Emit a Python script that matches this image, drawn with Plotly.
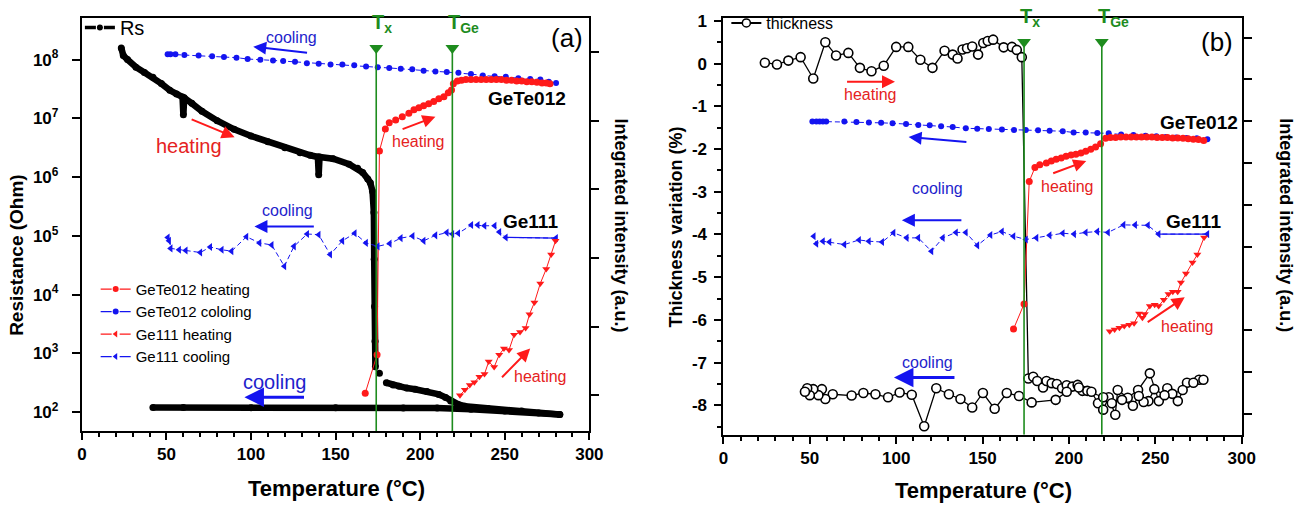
import plotly.graph_objects as go

# ---------------- data ----------------
# Panel (a): sheet resistance Rs (Ohm)
rs_heat_T = [23.3, 24.5, 27, 32, 37, 42, 47, 52, 56, 59.5, 60, 60.5, 65, 71, 80, 90, 100, 110, 120,
             129, 135, 139.5, 140, 140.5, 148.5, 158, 163, 166, 169, 170.5, 171.8, 172.6, 172.8, 173.0,
             173.3, 173.5, None, 175.9, None, 180, 184, 187.5, 192, 197, 204, 211, 215, 218, 222.5,
             226.5, 240, 260, 282.5]
rs_heat_R = [1.58e8, 1.17e8, 1.0e8, 7.4e7, 6.0e7, 5.0e7, 3.9e7, 3.0e7, 2.6e7, 2.3e7, 1.15e7, 2.24e7,
             1.8e7, 1.32e7, 9.1e6, 6.5e6, 5.0e6, 4.0e6, 3.16e6, 2.6e6, 2.35e6, 2.2e6, 1.1e6, 2.2e6,
             2.05e6, 1.66e6, 1.41e6, 1.2e6, 9.3e5, 8.0e5, 5.75e5, 2.5e5, 4.0e4, 6.3e3, 1.6e3, 590, None,
             460, None, 316, 290, 275, 257, 245, 224, 200, 178, 155, 135, 126, 115, 104, 91]
rs_cool_T = [282.5, 270, 250, 230, 210, 190, 150, 100, 60, 42]
rs_cool_R = [91, 97, 104, 112, 117, 118, 119, 119, 120, 120]

# Panel (a): integrated intensity (a.u.)
gete_heat_a_T = [167.5, 174.5, 175.9, 179.4, 181.7, 185.5, 189.4, 193.3, 196.3, 199.2, 202, 205, 208,
                 211, 214, 216.6, 218.5, 219.6, 222, 224.4, 227, 230, 233, 236, 239, 242, 245, 248,
                 251, 254, 257, 260, 263, 266, 269, 272, 274.5, 276.7]
gete_heat_a_I = [1.03, 1.59, 4.56, 4.88, 4.97, 5.01, 5.06, 5.11, 5.16, 5.19, 5.22, 5.25, 5.28, 5.32,
                 5.35, 5.41, 5.45, 5.54, 5.58, 5.59, 5.6, 5.6, 5.6, 5.6, 5.6, 5.6, 5.6, 5.6, 5.59,
                 5.59, 5.58, 5.58, 5.57, 5.57, 5.56, 5.55, 5.55, 5.54]
gete_cool_a_T = [280.3, 276, 271, 265, 258, 250.6, 244, 237, 230, 222.6, 215.7, 209, 202, 195.3, 188.5,
                 181.7, 174.9, 168, 161, 154, 147, 140, 133, 126, 119, 113, 105.5, 98, 91.4, 84, 77,
                 69, 60.6, 55.3, 52.4, 50.7]
gete_cool_a_I = [5.55, 5.57, 5.6, 5.61, 5.62, 5.64, 5.65, 5.66, 5.68, 5.7, 5.71, 5.72, 5.73, 5.75,
                 5.76, 5.77, 5.78, 5.79, 5.81, 5.82, 5.82, 5.83, 5.84, 5.86, 5.87, 5.88, 5.89, 5.9,
                 5.92, 5.93, 5.94, 5.95, 5.96, 5.97, 5.97, 5.97]
ge_heat_a_T = [223.5, 226.4, 229.3, 232, 235, 238, 240.5, 243.7, 246.7, 249.5, 252.5, 255.5, 259,
               262.3, 264.6, 267.5, 271, 274.5, 277.4, 280]
ge_heat_a_I = [1.0, 1.08, 1.15, 1.19, 1.27, 1.31, 1.49, 1.41, 1.59, 1.68, 1.66, 1.88, 1.92, 1.98,
               2.18, 2.35, 2.63, 2.84, 3.05, 3.25]
ge_cool_a_T = [280.3, 250.6, 246.8, 244, 238, 234, 230.2, 222.5, 219, 215.7, 209, 202, 195.5, 188.5,
               182, 174.9, 168, 161.3, 154, 146.8, 140, 133.2, 125.4, 119.7, 112.2, 105, 97.3, 88.5,
               82.7, 75.9, 70, 61.4, 57.5, 52.5, 51.6, 50.8]
ge_cool_a_I = [3.29, 3.30, 3.38, 3.47, 3.47, 3.48, 3.48, 3.36, 3.35, 3.37, 3.33, 3.25, 3.32, 3.29,
               3.21, 3.17, 3.22, 3.36, 3.25, 3.05, 3.34, 3.35, 3.17, 2.88, 3.19, 3.22, 3.31, 3.10,
               3.12, 3.16, 3.08, 3.11, 3.12, 3.14, 3.25, 3.30]

# Panel (b): thickness variation (%)
thick_T = [24, 31, 37.6, 44.7, 52, 59, 65.2, 72.3, 79, 85.7, 92.8, 100, 107, 114, 121, 128, 132.7,
           135.5, 138.4, 141, 144, 147.4, 150.4, 153, 156.1, 162.2, 167, 169.8, 172.7,
           176.5, 179.3, 181.6, 185, 187, 190, 193, 196, 198.7, 202, 205, 207.8, 210.6, 213, 216.8,
           219.8, 223, 226.8, 228.2, 234, 240, 246.8, 252, 256.9, 263, 268.3, 275.3, 277.8,
           272, 265.8, 259.8, 255.3, 249.4, 246, 243.2, 240.4, 237, 230.7, 224.8, 219.8, 205.7,
           198.7, 192.3, 178.4, 171.1, 164, 157, 150.2, 144, 137.2, 130.5, 123.2, 116.2, 109, 102,
           95.3, 88, 81, 74.2, 63.3, 59, 57, 55, 52, 50, 48.5, 47.2]
thick_V = [0.02, -0.02, 0.07, 0.15, -0.35, 0.50, 0.19, 0.25, -0.10, -0.18, -0.05, 0.39, 0.39, 0.09,
           -0.10, 0.30, 0.21, 0.12, 0.33, 0.36, 0.40, 0.21, 0.48, 0.53, 0.56, 0.38, 0.39, 0.32, 0.15,
           -7.37, -7.33, -7.43, -7.58, -7.43, -7.48, -7.50, -7.60, -7.53, -7.56, -7.52, -7.66, -7.66,
           -7.68, -7.95, -8.10, -7.81, -8.22, -7.64, -7.82, -7.64, -7.25, -7.90, -7.60, -7.90, -7.47,
           -7.40, -7.40,
           -7.47, -7.64, -7.73, -7.76, -7.62, -7.90, -7.92, -7.78, -8.01, -7.87, -7.95, -7.81, -7.58,
           -7.68, -7.87, -7.93, -7.78, -7.71, -8.08, -7.71, -8.05, -7.85, -7.74, -7.60, -8.49, -7.75,
           -7.70, -7.81, -7.74, -7.71, -7.77, -7.74, -7.85, -7.62, -7.76, -7.62, -7.76, -7.60, -7.68]

# Panel (b): integrated intensity (a.u.)
gete_heat_b_T = [167.9, 174, 177, 180.3, 183.1, 186.9, 189.8, 192.6, 195.5, 198.3, 201.2, 204, 206.9,
                 209.7, 212.6, 215.4, 218.3, 221.2, 224, 227, 230, 233, 236, 239, 242, 245, 248, 251,
                 254, 257, 260, 263, 266, 269, 272, 275, 278]
gete_heat_b_I = [3.03, 3.63, 6.56, 6.89, 6.96, 7.0, 7.05, 7.09, 7.12, 7.16, 7.19, 7.21, 7.24, 7.28,
                 7.33, 7.38, 7.46, 7.59, 7.61, 7.61, 7.62, 7.62, 7.62, 7.62, 7.62, 7.62, 7.62, 7.61,
                 7.61, 7.61, 7.6, 7.6, 7.59, 7.58, 7.57, 7.56, 7.54]
gete_cool_b_T = [280.1, 274, 268, 262, 256, 250.6, 244.3, 237.3, 230.2, 223, 216.4, 209.7, 202.7, 196.4,
                 188.8, 182.1, 175, 168.2, 161.2, 153.6, 146.9, 140.3, 132.7, 126, 119.4, 112.8, 105.7,
                 97.9, 91.3, 84.2, 77, 70, 59.5, 57.6, 55.7, 53.8, 51.5]
gete_cool_b_I = [7.57, 7.59, 7.6, 7.61, 7.62, 7.64, 7.65, 7.67, 7.68, 7.71, 7.72, 7.73, 7.73, 7.76,
                 7.77, 7.78, 7.79, 7.79, 7.80, 7.81, 7.82, 7.83, 7.86, 7.88, 7.90, 7.91, 7.93, 7.95,
                 7.96, 7.97, 7.98, 7.99, 7.99, 7.99, 7.99, 7.99, 7.99]
ge_heat_b_T = [223.6, 226.4, 229.2, 232.0, 234.9, 237.7, 240.6, 242.5, 243.9, 246.8, 249.6, 251.9,
               254.9, 257.6, 260.1, 262.9, 264.8, 267.7, 271.5, 274.3, 278.2]
ge_heat_b_I = [2.98, 3.02, 3.06, 3.10, 3.13, 3.17, 3.40, 3.30, 3.39, 3.58, 3.61, 3.58, 3.73, 3.87,
               3.92, 3.92, 4.14, 4.36, 4.62, 4.81, 5.22]
ge_cool_b_T = [280.1, 251.9, 245.7, 238.3, 231.6, 222.6, 216.4, 209.7, 203, 196.4, 188.8, 181.2, 175.1,
               167.9, 161.2, 154.6, 147, 140.3, 134.6, 127, 120.4, 112.8, 106.1, 98.5, 91.9, 84.2,
               78.5, 70, 61.4, 57.6, 53.8, 52.3]
ge_cool_b_I = [5.30, 5.30, 5.51, 5.52, 5.52, 5.34, 5.36, 5.34, 5.30, 5.32, 5.27, 5.21, 5.17, 5.25,
               5.36, 5.28, 5.03, 5.34, 5.34, 5.21, 4.89, 5.21, 5.21, 5.33, 5.11, 5.13, 5.16, 5.05,
               5.11, 5.13, 5.07, 5.25]

# transition temperatures
T_x = 174
T_ge = 219

x_tickvals = [0, 50, 100, 150, 200, 250, 300]
x_ticktext = ['0', '50', '100', '150', '200', '250', '300']
rs_tickvals = [1e2, 1e3, 1e4, 1e5, 1e6, 1e7, 1e8]
rs_tickexp = ['2', '3', '4', '5', '6', '7', '8']
thick_tickvals = [-8, -7, -6, -5, -4, -3, -2, -1, 0, 1]
thick_ticktext = ['-8', '-7', '-6', '-5', '-4', '-3', '-2', '-1', '0', '1']
thick_minor = [-8.5, -7.5, -6.5, -5.5, -4.5, -3.5, -2.5, -1.5, -0.5, 0.5]
inten_a_tickvals = [1, 2, 3, 4, 5, 6]
inten_b_tickvals = [1, 2, 3, 4, 5, 6, 7, 8, 9, 10]

# ---------------- style ----------------
FONT = 'Liberation Sans, Arial, sans-serif'
RED = '#FF1A1A'
BLUE = '#1414F0'
RED_T = '#E52222'
BLUE_T = '#1E1ECC'
GREEN = '#1E8C1E'
W, H = 1307, 507

fig = go.Figure()

# ---- panel (a) traces ----
for T, R in [(rs_heat_T, rs_heat_R), (rs_cool_T, rs_cool_R)]:
    fig.add_trace(go.Scatter(x=T, y=R, mode='lines+markers', xaxis='x', yaxis='y',
                             line=dict(color='black', width=6.5), marker=dict(color='black', size=7),
                             showlegend=False, connectgaps=False))

dash_b = '5px,3px'


def intensity_traces(xa, ya, gh_T, gh_I, gc_T, gc_I, eh_T, eh_I, ec_T, ec_I):
    fig.add_trace(go.Scatter(x=gc_T, y=gc_I, xaxis=xa, yaxis=ya, mode='lines+markers',
                             line=dict(color=BLUE, width=1, dash=dash_b), marker=dict(color=BLUE, size=6),
                             showlegend=False))
    fig.add_trace(go.Scatter(x=gh_T, y=gh_I, xaxis=xa, yaxis=ya, mode='lines+markers',
                             line=dict(color=RED, width=1), marker=dict(color=RED, size=7),
                             showlegend=False))
    fig.add_trace(go.Scatter(x=ec_T, y=ec_I, xaxis=xa, yaxis=ya, mode='lines+markers',
                             line=dict(color=BLUE, width=1, dash=dash_b),
                             marker=dict(color=BLUE, size=7, symbol='triangle-left'), showlegend=False))
    # first (long) cooling step is drawn with a solid line in the original
    fig.add_trace(go.Scatter(x=ec_T[:2], y=ec_I[:2], xaxis=xa, yaxis=ya, mode='lines',
                             line=dict(color=BLUE, width=1.3), showlegend=False))
    fig.add_trace(go.Scatter(x=eh_T, y=eh_I, xaxis=xa, yaxis=ya, mode='lines+markers',
                             line=dict(color=RED, width=1),
                             marker=dict(color=RED, size=7, symbol='triangle-down'), showlegend=False))


intensity_traces('x', 'y2', gete_heat_a_T, gete_heat_a_I, gete_cool_a_T, gete_cool_a_I,
                 ge_heat_a_T, ge_heat_a_I, ge_cool_a_T, ge_cool_a_I)

# ---- panel (b) traces ----
fig.add_trace(go.Scatter(x=thick_T, y=thick_V, xaxis='x2', yaxis='y3', mode='lines+markers',
                         line=dict(color='black', width=1.3),
                         marker=dict(color='white', size=9, line=dict(color='black', width=1.6)),
                         showlegend=False))
intensity_traces('x2', 'y4', gete_heat_b_T, gete_heat_b_I, gete_cool_b_T, gete_cool_b_I,
                 ge_heat_b_T, ge_heat_b_I, ge_cool_b_T, ge_cool_b_I)

# ---- transition markers ----
for xa, ya, top, bottom in [('x', 'y2', 6.06, 0.48), ('x2', 'y4', 9.89, 0.5)]:
    for t in [T_x, T_ge]:
        fig.add_shape(type='line', xref=xa, yref=ya, x0=t, x1=t, y0=bottom, y1=top,
                      line=dict(color=GREEN, width=1.6))
    fig.add_trace(go.Scatter(x=[T_x, T_ge], y=[top, top], xaxis=xa, yaxis=ya, mode='markers',
                             marker=dict(symbol='triangle-down', color=GREEN, size=12),
                             showlegend=False))

# ---- legend entries ----
fig.add_trace(go.Scatter(x=[None], y=[None], name='Rs', mode='lines+markers', legend='legend',
                         line=dict(color='black', width=3.5, dash='11px,8px'),
                         marker=dict(color='black', size=6)))
for name, col, sym in [('GeTe012 heating', RED, 'circle'), ('GeTe012 cololing', BLUE, 'circle'),
                       ('Ge111 heating', RED, 'triangle-left'), ('Ge111 cooling', BLUE, 'triangle-left')]:
    fig.add_trace(go.Scatter(x=[None], y=[None], name=name, mode='lines+markers', legend='legend2',
                             line=dict(color=col, width=1.2, dash='11px,8px'),
                             marker=dict(color=col, size=6, symbol=sym)))
fig.add_trace(go.Scatter(x=[None], y=[None], name='thickness', mode='lines+markers', legend='legend3',
                         xaxis='x2', yaxis='y3',
                         line=dict(color='black', width=2, dash='11px,8px'),
                         marker=dict(color='white', size=8, line=dict(color='black', width=1.5))))

# ---------------- annotations ----------------
ann = []


def text(x, y, s, color, size, xref, yref, bold=False, **kw):
    d = dict(x=x, y=y, xref=xref, yref=yref, showarrow=False, xanchor='center', yanchor='middle',
             text=('<b>%s</b>' % s) if bold else s,
             font=dict(family=FONT, size=size, color=color))
    d.update(kw)
    ann.append(d)


def arrow(x0, y0, x1, y1, color, xref, yref, width=2):
    ann.append(dict(x=x1, y=y1, ax=x0, ay=y0, xref=xref, yref=yref, axref=xref, ayref=yref,
                    showarrow=True, arrowhead=2, arrowsize=1.3, arrowwidth=width, arrowcolor=color,
                    text='', standoff=0, startstandoff=0))


# panel (a)
text(124, 6.21, 'cooling', BLUE_T, 16, 'x', 'y2')
arrow(134, 5.99, 101.3, 6.08, BLUE, 'x', 'y2')
text(63.5, 4.63, 'heating', RED_T, 20, 'x', 'y2')
arrow(64, 5.03, 90.3, 4.76, RED, 'x', 'y2')
text(121.7, 3.69, 'cooling', BLUE_T, 16, 'x', 'y2')
arrow(138, 3.46, 102, 3.46, BLUE, 'x', 'y2')
text(199.2, 4.70, 'heating', RED_T, 16, 'x', 'y2')
arrow(188.7, 4.87, 209, 5.06, RED, 'x', 'y2')
text(263.2, 5.33, 'GeTe012', 'black', 19, 'x', 'y2', bold=True)
text(265, 3.53, 'Ge111', 'black', 19, 'x', 'y2', bold=True)
text(287, 6.21, '(a)', 'black', 26, 'x', 'y2')
text(114, 1.20, 'cooling', BLUE_T, 20, 'x', 'y2')
arrow(132.2, 0.97, 96.1, 0.97, BLUE, 'x', 'y2', width=3)
text(271.4, 1.27, 'heating', RED_T, 16, 'x', 'y2')
arrow(247.5, 1.24, 265, 1.68, RED, 'x', 'y2')
text(T_x, 6.20, '<b>T<sub>x</sub></b>', GREEN, 20, 'x', 'y2', xanchor='left', yanchor='bottom', xshift=-6)
text(T_ge, 6.20, '<b>T<sub>Ge</sub></b>', GREEN, 20, 'x', 'y2', xanchor='left', yanchor='bottom', xshift=-6)

# panel (b)
text(85, 8.64, 'heating', RED_T, 16, 'x2', 'y4')
arrow(70.7, 8.94, 99.3, 8.94, RED, 'x2', 'y4')
arrow(141.5, 7.50, 107.2, 7.62, BLUE, 'x2', 'y4')
text(123.8, 6.39, 'cooling', BLUE_T, 16, 'x2', 'y4')
arrow(138.6, 5.63, 103.3, 5.63, BLUE, 'x2', 'y4')
text(275, 7.97, 'GeTe012', 'black', 19, 'x2', 'y4', bold=True)
text(199, 6.44, 'heating', RED_T, 16, 'x2', 'y4')
arrow(190, 6.74, 210, 7.05, RED, 'x2', 'y4')
text(272, 5.61, 'Ge111', 'black', 19, 'x2', 'y4', bold=True)
text(285.8, 9.89, '(b)', 'black', 26, 'x2', 'y4')
text(118, 2.23, 'cooling', BLUE_T, 16, 'x2', 'y4')
arrow(134.6, 1.87, 98.7, 1.87, BLUE, 'x2', 'y4', width=3)
text(268.7, 3.10, 'heating', RED_T, 16, 'x2', 'y4')
arrow(244.7, 3.17, 267, 3.79, RED, 'x2', 'y4')
text(T_x, 10.12, '<b>T<sub>x</sub></b>', GREEN, 20, 'x2', 'y4', xanchor='left', yanchor='bottom', xshift=-6)
text(T_ge, 10.12, '<b>T<sub>Ge</sub></b>', GREEN, 20, 'x2', 'y4', xanchor='left', yanchor='bottom', xshift=-6)

# axis titles
text(11 / W, 1 - 252 / H, '<b>Resistance (Ohm)</b>', 'black', 19, 'paper', 'paper', textangle=-90)
text(625 / W, 1 - 222 / H, '<b>Integrated intensity (a.u.)</b>', 'black', 18, 'paper', 'paper', textangle=90)
text(336 / W, 1 - 488 / H, '<b>Temperature (°C)</b>', 'black', 22, 'paper', 'paper')
text(681 / W, 1 - 224 / H, '<b>Thickness variation (%)</b>', 'black', 18, 'paper', 'paper', textangle=-90)
text(1300 / W, 1 - 222 / H, '<b>Integrated intensity (a.u.)</b>', 'black', 18, 'paper', 'paper', textangle=90)
text(993 / W, 1 - 490 / H, '<b>Temperature (°C)</b>', 'black', 22, 'paper', 'paper')

# ---------------- axes ----------------
tickfont = dict(family=FONT, size=17, color='black')
common = dict(showline=True, linewidth=2, linecolor='black', showgrid=False, zeroline=False,
              ticks='outside', tickwidth=2, tickcolor='black', tickfont=tickfont, mirror=True)
xcommon = dict(common, range=[0, 300], tickmode='array', tickvals=x_tickvals,
               ticktext=['<b>%s</b>' % t for t in x_ticktext], ticklen=7,
               minor=dict(tickmode='linear', tick0=0, dtick=10, ticks='outside', ticklen=4,
                          tickwidth=1.5, tickcolor='black', showgrid=False))
right = dict(showline=True, linewidth=2, linecolor='black', showgrid=False, zeroline=False,
             ticks='outside', tickwidth=2, tickcolor='black', ticklen=8, showticklabels=False)

fig.update_layout(
    width=W, height=H, margin=dict(l=0, r=0, t=0, b=0), autosize=False,
    paper_bgcolor='white', plot_bgcolor='white',
    font=dict(family=FONT, color='black'),
    xaxis=dict(xcommon, domain=[78 / W, 593 / W], anchor='y'),
    yaxis=dict(common, domain=[1 - 430 / H, 1 - 12 / H], anchor='x', type='log', range=[1.68, 8.71],
               tickmode='array', tickvals=rs_tickvals,
               ticktext=['<b>10<sup>%s</sup></b>' % e for e in rs_tickexp],
               ticklen=8, ticklabelstandoff=10),
    yaxis2=dict(right, overlaying='y', side='right', anchor='x', range=[0.48, 6.50],
                tickvals=inten_a_tickvals),
    xaxis2=dict(xcommon, domain=[729 / W, 1255 / W], anchor='y3'),
    yaxis3=dict(common, domain=[1 - 434 / H, 1 - 12 / H], anchor='x2', range=[-8.69, 1.07],
                tickmode='array', tickvals=thick_tickvals,
                ticktext=['<b>%s</b>' % t for t in thick_ticktext], ticklen=7, ticklabelstandoff=4,
                minor=dict(tickmode='array', tickvals=thick_minor, ticks='outside', ticklen=4,
                           tickwidth=1.5, tickcolor='black', showgrid=False)),
    yaxis4=dict(right, overlaying='y3', side='right', anchor='x2', range=[0.5, 10.47],
                tickvals=inten_b_tickvals),
    legend=dict(x=76 / W, y=1 - 2 / H, xanchor='left', yanchor='top', bgcolor='rgba(0,0,0,0)',
                font=dict(family=FONT, size=20, color='black')),
    legend2=dict(x=92 / W, y=1 - 270 / H, xanchor='left', yanchor='top', bgcolor='rgba(0,0,0,0)',
                 font=dict(family=FONT, size=15, color='black'), tracegroupgap=0),
    legend3=dict(x=732 / W, y=1 - 0 / H, xanchor='left', yanchor='top', bgcolor='rgba(0,0,0,0)',
                 font=dict(family=FONT, size=16, color='black')),
    annotations=ann,
)

fig.write_html('out.html')
